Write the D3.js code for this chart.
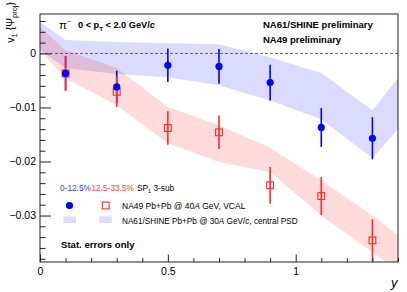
<!DOCTYPE html>
<html><head><meta charset="utf-8">
<script src="https://cdn.jsdelivr.net/npm/d3@7"></script>
<style>
html,body{margin:0;padding:0;background:#fff;}
svg{display:block;}
text{font-family:"Liberation Sans",Arial,Helvetica,sans-serif;}
</style></head>
<body>
<svg id="c" width="407" height="292"></svg>
<script>
// ---- data ----
const rapidity = [0.1, 0.3, 0.5, 0.7, 0.9, 1.1, 1.3];
const na49Central = [-0.0037, -0.0062, -0.0022, -0.0024, -0.0054, -0.0137, -0.0157];
const na49CentralErr = [0.0032, 0.0030, 0.0031, 0.0032, 0.0033, 0.0036, 0.0039];
const na49Mid = [-0.0037, -0.0071, -0.0138, -0.0146, -0.0244, -0.0264, -0.0346];
const na49MidErr = [0.0031, 0.0028, 0.0031, 0.0031, 0.0034, 0.0035, 0.0039];
const bandX = [0, 0.1, 0.3, 0.5, 0.7, 0.9, 1.1, 1.3, 1.4];
const na61CentralHi = [0.0058, 0.0025, 0.0021, 0.0019, 0.0017, -0.0007, -0.0036, -0.0105, -0.0046];
const na61CentralLo = [0.0006, -0.0027, -0.0038, -0.0044, -0.0059, -0.0087, -0.0122, -0.0194, -0.0140];
const na61MidHi = [0.0049, 0.0006, -0.0027, -0.0099, -0.0133, -0.0174, -0.0235, -0.0300, -0.0336];
const na61MidLo = [0.0006, -0.0046, -0.0096, -0.0166, -0.0201, -0.0220, -0.0300, -0.0368, -0.0401];
const yMajorTicks = [0, -0.01, -0.02, -0.03];
const yTickLabels = ["0", "\u22120.01", "\u22120.02", "\u22120.03"];
const xMajorTicks = [0, 0.5, 1];
const xTickLabels = ["0", "0.5", "1"];

// ---- layout ----
const L = 40, R = 398, T = 14, B = 262;
const svg = d3.select("#c");
const x = d3.scaleLinear().domain([0, 1.4]).range([L, R]);
const y = d3.scaleLinear().domain([-0.0386, 0.0073]).range([B, T]);

const blue = "#0000ff", red = "#ff2a2a";

svg.append("clipPath").attr("id", "clip").append("rect")
  .attr("x", L).attr("y", T).attr("width", R - L).attr("height", B - T);
const plot = svg.append("g").attr("clip-path", "url(#clip)");

function band(lo, hi, color) {
  const pts = bandX.map((v, i) => ({x: v, lo: lo[i], hi: hi[i]}));
  const area = d3.area().x(d => x(d.x)).y0(d => y(d.lo)).y1(d => y(d.hi));
  plot.append("path").datum(pts).attr("d", area)
    .attr("fill", color).attr("fill-opacity", 0.14).attr("stroke", "none");
}
band(na61CentralLo, na61CentralHi, "#0000ff");
band(na61MidLo, na61MidHi, "#ff0000");

// zero dashed line
plot.append("line").attr("x1", L).attr("x2", R).attr("y1", y(0)).attr("y2", y(0))
  .attr("stroke", "#444").attr("stroke-width", 0.8).attr("stroke-dasharray", "3,2");

// error bars
function errBars(vals, errs, color) {
  plot.append("g").selectAll("line").data(vals).join("line")
    .attr("x1", (d, i) => x(rapidity[i])).attr("x2", (d, i) => x(rapidity[i]))
    .attr("y1", (d, i) => y(d + errs[i])).attr("y2", (d, i) => y(d - errs[i]))
    .attr("stroke", color).attr("stroke-width", 1.6);
}
errBars(na49Central, na49CentralErr, blue);
errBars(na49Mid, na49MidErr, red);

// markers
plot.append("g").selectAll("rect").data(na49Mid).join("rect")
  .attr("x", (d, i) => x(rapidity[i]) - 3.4).attr("y", d => y(d) - 3.4)
  .attr("width", 6.8).attr("height", 6.8)
  .attr("fill", "none").attr("stroke", red).attr("stroke-width", 1.1);
plot.append("g").selectAll("circle").data(na49Central).join("circle")
  .attr("cx", (d, i) => x(rapidity[i])).attr("cy", d => y(d)).attr("r", 3.6)
  .attr("fill", blue);

// ---- axes ----
const tickCol = "#222";
const yMinor = d3.range(-0.038, 0.0072, 0.002).filter(v => !yMajorTicks.some(m => Math.abs(m - v) < 1e-9));
const gyMinor = svg.append("g").attr("transform", `translate(${L},0)`)
  .call(d3.axisLeft(y).tickValues(yMinor).tickSize(-5.5).tickFormat(""));
const gy = svg.append("g").attr("transform", `translate(${L},0)`)
  .call(d3.axisLeft(y).tickValues(yMajorTicks).tickSize(-11).tickPadding(4)
    .tickFormat((d, i) => yTickLabels[i]));
const xMinor = d3.range(0, 1.41, 0.1).filter(v => !xMajorTicks.some(m => Math.abs(m - v) < 1e-9));
const gxMinor = svg.append("g").attr("transform", `translate(0,${B})`)
  .call(d3.axisBottom(x).tickValues(xMinor).tickSize(-3.8).tickFormat(""));
const gx = svg.append("g").attr("transform", `translate(0,${B})`)
  .call(d3.axisBottom(x).tickValues(xMajorTicks).tickSize(-7.5).tickPadding(4)
    .tickFormat((d, i) => xTickLabels[i]));
[gy, gyMinor, gx, gxMinor].forEach(g => {
  g.select(".domain").remove();
  g.selectAll("line").attr("stroke", tickCol).attr("stroke-width", 1);
  g.selectAll("text").attr("font-size", 10.5).attr("fill", "#000")
    .attr("font-family", '"Liberation Sans",Arial,sans-serif');
});
gx.selectAll("text").attr("dy", "0.9em");

// frame
svg.append("rect").attr("x", L).attr("y", T).attr("width", R - L).attr("height", B - T)
  .attr("fill", "none").attr("stroke", "#222").attr("stroke-width", 1);

// axis titles
const yt = svg.append("text").attr("transform", "translate(14,2) rotate(-90)")
  .attr("text-anchor", "end").attr("font-size", 10.5);
yt.append("tspan").text("v");
yt.append("tspan").attr("font-size", 7.5).attr("dy", 3).text("1");
yt.append("tspan").attr("dy", -3).text(" {\u03A8");
yt.append("tspan").attr("font-size", 7.5).attr("dy", 3).text("proj");
yt.append("tspan").attr("dy", -3).text("}");

svg.append("text").attr("x", 391).attr("y", 287).attr("font-size", 13)
  .attr("font-style", "italic").text("y");

// header texts
const pi = svg.append("text").attr("x", 59).attr("y", 29).attr("font-size", 11.5);
pi.append("tspan").text("\u03C0");
pi.append("tspan").attr("font-size", 7).attr("dy", -5).text("\u2212");
const pt = svg.append("text").attr("x", 78).attr("y", 28).attr("font-size", 9.2).attr("font-weight", "bold");
pt.append("tspan").text("0 < p");
pt.append("tspan").attr("font-size", 6.2).attr("dy", 2.5).text("T");
pt.append("tspan").attr("dy", -2.5).text(" < 2.0 GeV/");
pt.append("tspan").attr("font-style", "italic").text("c");

svg.append("text").attr("x", 263).attr("y", 28).attr("font-size", 9.5).attr("font-weight", "bold")
  .text("NA61/SHINE preliminary");
svg.append("text").attr("x", 263).attr("y", 43).attr("font-size", 9.5).attr("font-weight", "bold")
  .text("NA49 preliminary");

// legend
const lg = svg.append("g");
lg.append("text").attr("x", 60).attr("y", 191).attr("font-size", 8.3).attr("fill", "#3a3aff").text("0-12.5%");
lg.append("text").attr("x", 91.5).attr("y", 191).attr("font-size", 8.3).attr("fill", "#ff4040").text("12.5-33.5%");
const sp = lg.append("text").attr("x", 137).attr("y", 191).attr("font-size", 8.3).attr("fill", "#000");
sp.append("tspan").text("SP");
sp.append("tspan").attr("font-size", 5.5).attr("dy", 2).text("1");
sp.append("tspan").attr("dy", -2).text(" 3-sub");

lg.append("circle").attr("cx", 69.5).attr("cy", 205.5).attr("r", 3.6).attr("fill", blue);
lg.append("rect").attr("x", 102.3).attr("y", 202.1).attr("width", 6.8).attr("height", 6.8)
  .attr("fill", "none").attr("stroke", red).attr("stroke-width", 1.1);
const t1 = lg.append("text").attr("x", 122).attr("y", 208.5).attr("font-size", 8.5);
t1.append("tspan").text("NA49 Pb+Pb @ 40");
t1.append("tspan").attr("font-style", "italic").text("A");
t1.append("tspan").text(" GeV, VCAL");

lg.append("rect").attr("x", 63.5).attr("y", 216.5).attr("width", 12.5).attr("height", 6.5).attr("fill", "#dcdcff");
lg.append("rect").attr("x", 99.3).attr("y", 216.5).attr("width", 12.5).attr("height", 6.5).attr("fill", "#dcdcff");
const t2 = lg.append("text").attr("x", 122).attr("y", 223.5).attr("font-size", 8.2);
t2.append("tspan").text("NA61/SHINE Pb+Pb @ 30");
t2.append("tspan").attr("font-style", "italic").text("A");
t2.append("tspan").text(" GeV/");
t2.append("tspan").attr("font-style", "italic").text("c");
t2.append("tspan").text(", central PSD");

svg.append("text").attr("x", 61).attr("y", 248).attr("font-size", 9.6).attr("font-weight", "bold")
  .text("Stat. errors only");
</script>
</body></html>
